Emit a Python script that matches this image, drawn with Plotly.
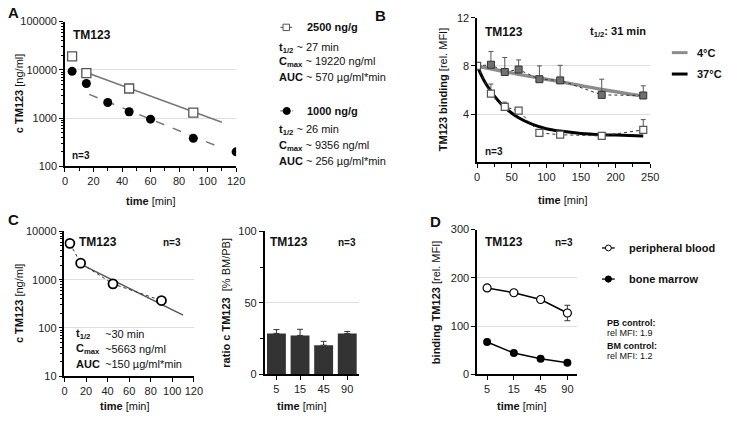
import plotly.graph_objects as go

W, H = 730, 425
FONT = "Arial, Liberation Sans, sans-serif"


def fx(x):
    return x / W


def fy(y):
    return 1 - y / H


# ---------------- data ----------------
# Panel A
a_time_2500 = [5, 15, 45, 90]
a_conc_2500 = [19000, 8500, 4100, 1300]
a_fit_time_2500 = [15, 110]
a_fit_conc_2500 = [8800, 820]
a_time_1000 = [5, 15, 30, 45, 60, 90, 120]
a_conc_1000 = [9300, 5200, 2100, 1350, 950, 380, 200]
a_err_1000 = [0, 0, 0, 220, 0, 0, 0]
a_fit_time_1000 = [17, 110]
a_fit_conc_1000 = [3100, 240]

# Panel B
b_time = [0, 20, 40, 60, 90, 120, 180, 240]
b_4c = [8.0, 8.1, 7.5, 7.7, 6.9, 6.8, 5.6, 5.55]
b_4c_err = [0, 1.1, 1.2, 0.8, 1.1, 1.25, 1.3, 0.8]
b_37c = [8.0, 5.7, 4.6, 4.3, 2.45, 2.3, 2.2, 2.7]
b_37c_err = [0, 0.8, 0.4, 0.2, 0, 0, 0.25, 0.85]
b_fit4_time = [0, 60, 120, 180, 240]
b_fit4_val = [8.0, 7.3, 6.7, 6.05, 5.5]
b_fit37_time = [0, 10, 20, 30, 40, 60, 80, 100, 120, 150, 180, 210, 240]
b_fit37_val = [8.0, 6.8, 5.9, 5.15, 4.55, 3.7, 3.15, 2.8, 2.6, 2.4, 2.3, 2.25, 2.2]

# Panel C (left)
c_time = [5, 15, 45, 90]
c_conc = [5663, 2200, 820, 370]
c_fit_time = [15, 110]
c_fit_conc = [2100, 185]

# Panel C (right, bars)
bar_cats = ["5", "15", "45", "90"]
bar_ratio = [28.6, 27.2, 20.4, 28.6]
bar_err = [2.7, 4.3, 2.7, 1.4]

# Panel D
d_cats = ["5", "15", "45", "90"]
d_pb = [179, 169, 155, 127]
d_pb_err = [0, 0, 0, 16]
d_bm = [67, 44, 32, 24]

# ---------------- figure ----------------
fig = go.Figure()

# A
fig.add_trace(go.Scatter(x=a_fit_time_2500, y=a_fit_conc_2500, mode="lines",
                         line=dict(color="#777", width=1.5), xaxis="x", yaxis="y"))
fig.add_trace(go.Scatter(x=a_fit_time_1000, y=a_fit_conc_1000, mode="lines",
                         line=dict(color="#777", width=1.5, dash="dash"), xaxis="x", yaxis="y"))
fig.add_trace(go.Scatter(x=a_time_2500, y=a_conc_2500, mode="markers",
                         marker=dict(symbol="square", size=9, color="white",
                                     line=dict(color="#555", width=1.3)),
                         xaxis="x", yaxis="y"))
fig.add_trace(go.Scatter(x=a_time_1000, y=a_conc_1000, mode="markers",
                         error_y=dict(type="data", array=a_err_1000, color="#444", thickness=1, width=3),
                         marker=dict(symbol="circle", size=9, color="black"),
                         xaxis="x", yaxis="y"))

# B
fig.add_trace(go.Scatter(x=b_fit4_time, y=b_fit4_val, mode="lines", line_shape="spline",
                         line=dict(color="#8c8c8c", width=3.5), xaxis="x2", yaxis="y2"))
fig.add_trace(go.Scatter(x=b_fit37_time, y=b_fit37_val, mode="lines", line_shape="spline",
                         line=dict(color="black", width=3), xaxis="x2", yaxis="y2"))
fig.add_trace(go.Scatter(x=b_time, y=b_4c, mode="lines+markers",
                         line=dict(color="#333", width=1, dash="dot"),
                         error_y=dict(type="data", symmetric=False, array=b_4c_err,
                                      arrayminus=[0] * len(b_4c_err), color="#555", thickness=1, width=2.5),
                         marker=dict(symbol="square", size=7, color="#707070",
                                     line=dict(color="#333", width=1)),
                         xaxis="x2", yaxis="y2"))
fig.add_trace(go.Scatter(x=b_time, y=b_37c, mode="lines+markers",
                         line=dict(color="#333", width=1, dash="dot"),
                         error_y=dict(type="data", symmetric=False, array=b_37c_err,
                                      arrayminus=[0] * len(b_37c_err), color="#555", thickness=1, width=2.5),
                         marker=dict(symbol="square", size=7, color="white",
                                     line=dict(color="#555", width=1.2)),
                         xaxis="x2", yaxis="y2"))

# C left
fig.add_trace(go.Scatter(x=c_fit_time, y=c_fit_conc, mode="lines",
                         line=dict(color="#555", width=1.5), xaxis="x3", yaxis="y3"))
fig.add_trace(go.Scatter(x=c_time, y=c_conc, mode="lines+markers",
                         line=dict(color="#333", width=1, dash="dot"),
                         marker=dict(symbol="circle", size=9, color="white",
                                     line=dict(color="black", width=1.8)),
                         xaxis="x3", yaxis="y3"))

# C right bars
fig.add_trace(go.Bar(x=bar_cats, y=bar_ratio, marker=dict(color="#333", line=dict(width=0)),
                     error_y=dict(type="data", symmetric=False, array=bar_err,
                                  arrayminus=[0] * len(bar_err), color="#333", thickness=1, width=3),
                     xaxis="x4", yaxis="y4"))

# D
fig.add_trace(go.Scatter(x=d_cats, y=d_pb, mode="lines+markers",
                         line=dict(color="black", width=1.5),
                         error_y=dict(type="data", array=d_pb_err, color="#333", thickness=1, width=3),
                         marker=dict(symbol="circle", size=8, color="white",
                                     line=dict(color="black", width=1.2)),
                         xaxis="x5", yaxis="y5"))
fig.add_trace(go.Scatter(x=d_cats, y=d_bm, mode="lines+markers",
                         line=dict(color="black", width=1.5),
                         marker=dict(symbol="circle", size=8, color="black"),
                         xaxis="x5", yaxis="y5"))

tickfont = dict(family=FONT, size=11, color="#222")
base = dict(showline=True, linecolor="black", linewidth=1.5, ticks="outside",
            ticklen=4, tickwidth=1.2, tickcolor="black", tickfont=tickfont,
            zeroline=False, showgrid=False, fixedrange=True)
grid = dict(showgrid=True, gridcolor="#dedede", gridwidth=1)

layout_axes = dict(
    xaxis=dict(base, domain=[fx(63), fx(237)], range=[0, 120], dtick=20, anchor="y",
               minor=dict(ticks="outside", ticklen=2.5, dtick=10, tickcolor="black")),
    yaxis=dict(base, **grid, domain=[fy(165), fy(16)], type="log", range=[2, 5], dtick=1,
               tickformat="d", anchor="x",
               minor=dict(ticks="outside", ticklen=2.5, dtick="D1", tickcolor="black", showgrid=False)),
    xaxis2=dict(base, domain=[fx(482), fx(658)], range=[0, 250], dtick=50, anchor="y2",
                minor=dict(ticks="outside", ticklen=2.5, dtick=25, tickcolor="black")),
    yaxis2=dict(base, **grid, domain=[fy(161), fy(12)], range=[0, 12], tickvals=[4, 8, 12],
                anchor="x2"),
    xaxis3=dict(base, domain=[fx(62.5), fx(194)], range=[0, 120], dtick=20, anchor="y3"),
    yaxis3=dict(base, **grid, domain=[fy(381), fy(232)], type="log", range=[1, 4], dtick=1,
                tickformat="d", anchor="x3",
                minor=dict(ticks="outside", ticklen=2.5, dtick="D1", tickcolor="black", showgrid=False)),
    xaxis4=dict(base, domain=[fx(266), fx(362)], type="category", anchor="y4"),
    yaxis4=dict(base, **grid, domain=[fy(379), fy(232)], range=[0, 100], tickvals=[0, 50, 100],
                anchor="x4", minor=dict(ticks="outside", ticklen=2.5, dtick=25, tickcolor="black", showgrid=False)),
    xaxis5=dict(base, domain=[fx(482), fx(584)], type="category", anchor="y5"),
    yaxis5=dict(base, **grid, domain=[fy(379), fy(230)], range=[0, 300], dtick=100, anchor="x5"),
)

ann = []


def text(x, y, s, size=11, xanchor="left", bold=False, angle=0, color="#111"):
    if bold:
        s = "<b>" + s + "</b>"
    ann.append(dict(x=fx(x), y=fy(y), xref="paper", yref="paper", text=s, showarrow=False,
                    xanchor=xanchor, yanchor="middle", textangle=angle,
                    font=dict(family=FONT, size=size, color=color)))


# panel letters
text(3, 7, "A", size=15, bold=True)
text(376, 10, "B", size=15, bold=True)
text(3, 220, "C", size=15, bold=True)
text(432, 222, "D", size=15, bold=True)

# axis titles
text(17, 90, "<b>c TM123</b> [ng/ml]", angle=-90, xanchor="center")
text(150, 201, "<b>time</b> [min]", xanchor="center")
text(447, 86, "<b>TM123 binding</b> [rel. MFI]", angle=-90, xanchor="center")
text(569, 200, "<b>time</b> [min]", xanchor="center")
text(17, 306, "<b>c TM123</b> [ng/ml]", angle=-90, xanchor="center")
text(124, 412, "<b>time</b> [min]", xanchor="center")
text(227, 305, "<b>ratio c TM123</b>  [% BM/PB]", angle=-90, xanchor="center")
text(304, 412, "<b>time</b> [min]", xanchor="center")
text(441, 305, "<b>binding TM123</b> [rel. MFI]", angle=-90, xanchor="center")
text(528, 412, "<b>time</b> [min]", xanchor="center")

# in-plot labels
text(90, 30, "TM123", size=12, bold=True, xanchor="center")
text(68, 154, "n=3", size=10, bold=True)
text(509, 27, "TM123", size=12, bold=True, xanchor="center")
text(488, 150, "n=3", size=10, bold=True)
text(595, 27, "t<sub>1/2</sub>: 31 min", size=11, bold=True)
text(97, 243, "TM123", size=12, bold=True, xanchor="center")
text(172, 243, "n=3", size=10, bold=True, xanchor="center")
text(72, 338, "t<sub>1/2</sub>", size=11, bold=True)
text(102, 338, "~30 min", size=11)
text(72, 353, "C<sub>max</sub>", size=11, bold=True)
text(102, 353, "~5663 ng/ml", size=11)
text(72, 368, "AUC", size=11, bold=True)
text(102, 368, "~150 µg/ml*min", size=11)
text(291, 243, "TM123", size=12, bold=True, xanchor="center")
text(350, 243, "n=3", size=10, bold=True, xanchor="center")
text(509, 243, "TM123", size=12, bold=True, xanchor="center")
text(570, 243, "n=3", size=10, bold=True, xanchor="center")

# Panel A legend / parameters
text(307, 22, "2500 ng/g", size=11, bold=True)
text(279, 43, "<b>t<sub>1/2</sub></b> ~ 27 min", size=11)
text(279, 58, "<b>C<sub>max</sub></b> ~ 19220 ng/ml", size=11)
text(279, 73, "<b>AUC</b> ~ 570 µg/ml*min", size=11)
text(307, 108, "1000 ng/g", size=11, bold=True)
text(279, 128, "<b>t<sub>1/2</sub></b> ~ 26 min", size=11)
text(279, 144, "<b>C<sub>max</sub></b> ~ 9356 ng/ml", size=11)
text(279, 159, "<b>AUC</b> ~ 256 µg/ml*min", size=11)

# Panel B legend
text(704, 48, "4°C", size=11, bold=True)
text(704, 70, "37°C", size=11, bold=True)

# Panel D legend + notes
text(634, 249, "peripheral blood", size=11, bold=True)
text(634, 281, "bone marrow", size=11, bold=True)
text(612, 326, "PB control:", size=9, bold=True)
text(612, 336, "rel MFI: 1.9", size=9)
text(612, 350, "BM control:", size=9, bold=True)
text(612, 360, "rel MFI: 1.2", size=9)

shapes = []


def line(x0, y0, x1, y1, color, width, dash="solid"):
    shapes.append(dict(type="line", xref="paper", yref="paper", x0=fx(x0), y0=fy(y0),
                       x1=fx(x1), y1=fy(y1), line=dict(color=color, width=width, dash=dash)))


def rect(cx, cy, r, fill, color):
    shapes.append(dict(type="rect", xref="paper", yref="paper", x0=fx(cx - r), x1=fx(cx + r),
                       y0=fy(cy + r), y1=fy(cy - r), fillcolor=fill, line=dict(color=color, width=1)))


def circ(cx, cy, r, fill, color):
    shapes.append(dict(type="circle", xref="paper", yref="paper", x0=fx(cx - r), x1=fx(cx + r),
                       y0=fy(cy + r), y1=fy(cy - r), fillcolor=fill, line=dict(color=color, width=1)))


line(282, 22, 294, 22, "#666", 1.2)
rect(288, 22, 3.3, "white", "#555")
line(282, 108, 295, 108, "#666", 1.2, "dot")
circ(288.5, 108, 3.6, "black", "black")
line(680, 48, 696, 48, "#8c8c8c", 3)
line(680, 70, 696, 70, "black", 3)
line(609, 249, 622, 249, "black", 1.3)
circ(615.5, 249, 3, "white", "black")
line(609, 281, 622, 281, "black", 1.3)
circ(615.5, 281, 3.2, "black", "black")

fig.update_layout(
    width=W, height=H, margin=dict(l=0, r=0, t=0, b=0),
    paper_bgcolor="white", plot_bgcolor="white", showlegend=False,
    bargap=0.2, annotations=ann, shapes=shapes,
    font=dict(family=FONT, size=11, color="#111"),
    **layout_axes,
)

fig.write_html("out.html", config={"displayModeBar": False},
               post_script="document.body.style.margin='0px';document.body.style.overflow='hidden';")
